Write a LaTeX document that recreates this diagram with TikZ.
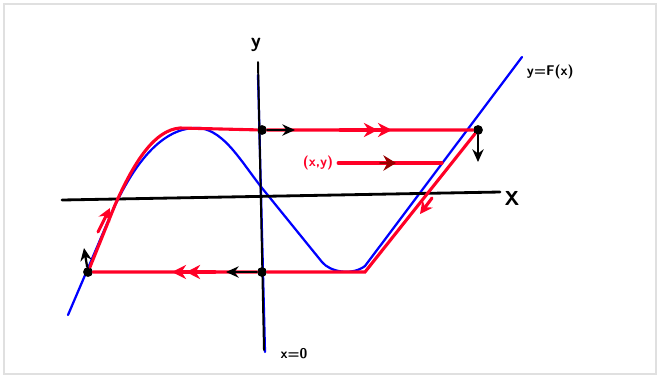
\documentclass[tikz,border=0pt]{standalone}
\usepackage{amsmath}
\usetikzlibrary{arrows.meta}

\begin{document}
\begin{tikzpicture}[x=0.025cm,y=-0.025cm,line cap=round]
  \tikzstyle{dot}=[circle,fill=black,minimum size=7pt,inner sep=0pt]
  \tikzstyle{lbl}=[font=\sffamily\bfseries]
  \tikzstyle{redline}=[draw=red!85!magenta,line width=2.2pt]
  \tikzstyle{blueline}=[draw=blue,line width=1.6pt]
  \useasboundingbox (0,0) rectangle (660,378);
  \draw[black!12,line width=1.5pt] (4,4) rectangle (656,374);

  % axes
  \coordinate (X_l) at (62,200);
  \coordinate (X_r) at (500,192);
  \coordinate (Y_t) at (258,62);
  \coordinate (Y_b) at (264,350);
  \node[lbl,font=\sffamily\bfseries\Large] (X) at (512,198) {X};
  \node[lbl,font=\sffamily\bfseries\Large] (Y) at (256,45) {y};
  \node[lbl] (X0) at (294,354) {x=0};

  % cubic y=F(x)
  \draw[blueline] (68,315) -- (112,212) .. controls (140,150) and (170,126) .. (200,128)
    .. controls (225,132) and (240,160) .. (262,188) -- (322,262)
    .. controls (330,272) and (352,276) .. (365,266) -- (522,57);
  \draw[blueline] (258,75) -- (265,352);
  \node[lbl,anchor=west] (F) at (522,72) {y=F(x)};

  \draw[line width=2pt] (X_l) -- (X_r);
  \draw[line width=1.4pt] (Y_t) -- (Y_b);

  % limit cycle
  \node[dot] (A) at (262,130) {};
  \node[dot] (B) at (478,130) {};
  \node[dot] (C) at (262,272) {};
  \node[dot] (D) at (88,272) {};
  \coordinate (M) at (180,128);
  \coordinate (N) at (365,272);
  \draw[redline] (M) -- (A) -- (B) -- (N) -- (C) -- (D) -- (115,205)
    .. controls (135,160) and (155,130) .. (M);

  % arrows
  \draw[line width=1.6pt,-{Stealth[length=9pt,width=8pt]}] (A) -- (295,130);
  \draw[line width=1.6pt,-{Stealth[length=9pt,width=8pt]}] (B) -- (478,162);
  \draw[line width=1.6pt,-{Stealth[length=9pt,width=8pt]}] (C) -- (226,272);
  \draw[line width=1.6pt,-{Stealth[length=9pt,width=8pt]}] (D) -- (84,248);
  \draw[redline,-{Stealth[length=10pt,width=10pt]Stealth[length=10pt,width=10pt]}] (340,130) -- (392,130);
  \draw[redline,-{Stealth[length=10pt,width=10pt]Stealth[length=10pt,width=10pt]}] (215,272) -- (172,272);
  \draw[redline,-{Stealth[length=9pt,width=9pt]}] (432,198) -- (420,214);
  \draw[redline,-{Stealth[length=9pt,width=9pt]}] (98,232) -- (110,208);

  % point (x,y)
  \node[lbl,text=red!85!magenta] (P) at (318,163) {(x,y)};
  \coordinate (Q) at (442,163);
  \draw[redline] (P) -- (Q);
  \draw[line width=1.2pt,draw=red!60!black,-{Stealth[length=9pt,width=11pt]}] (380,163) -- (396,163);
\end{tikzpicture}
\end{document}
